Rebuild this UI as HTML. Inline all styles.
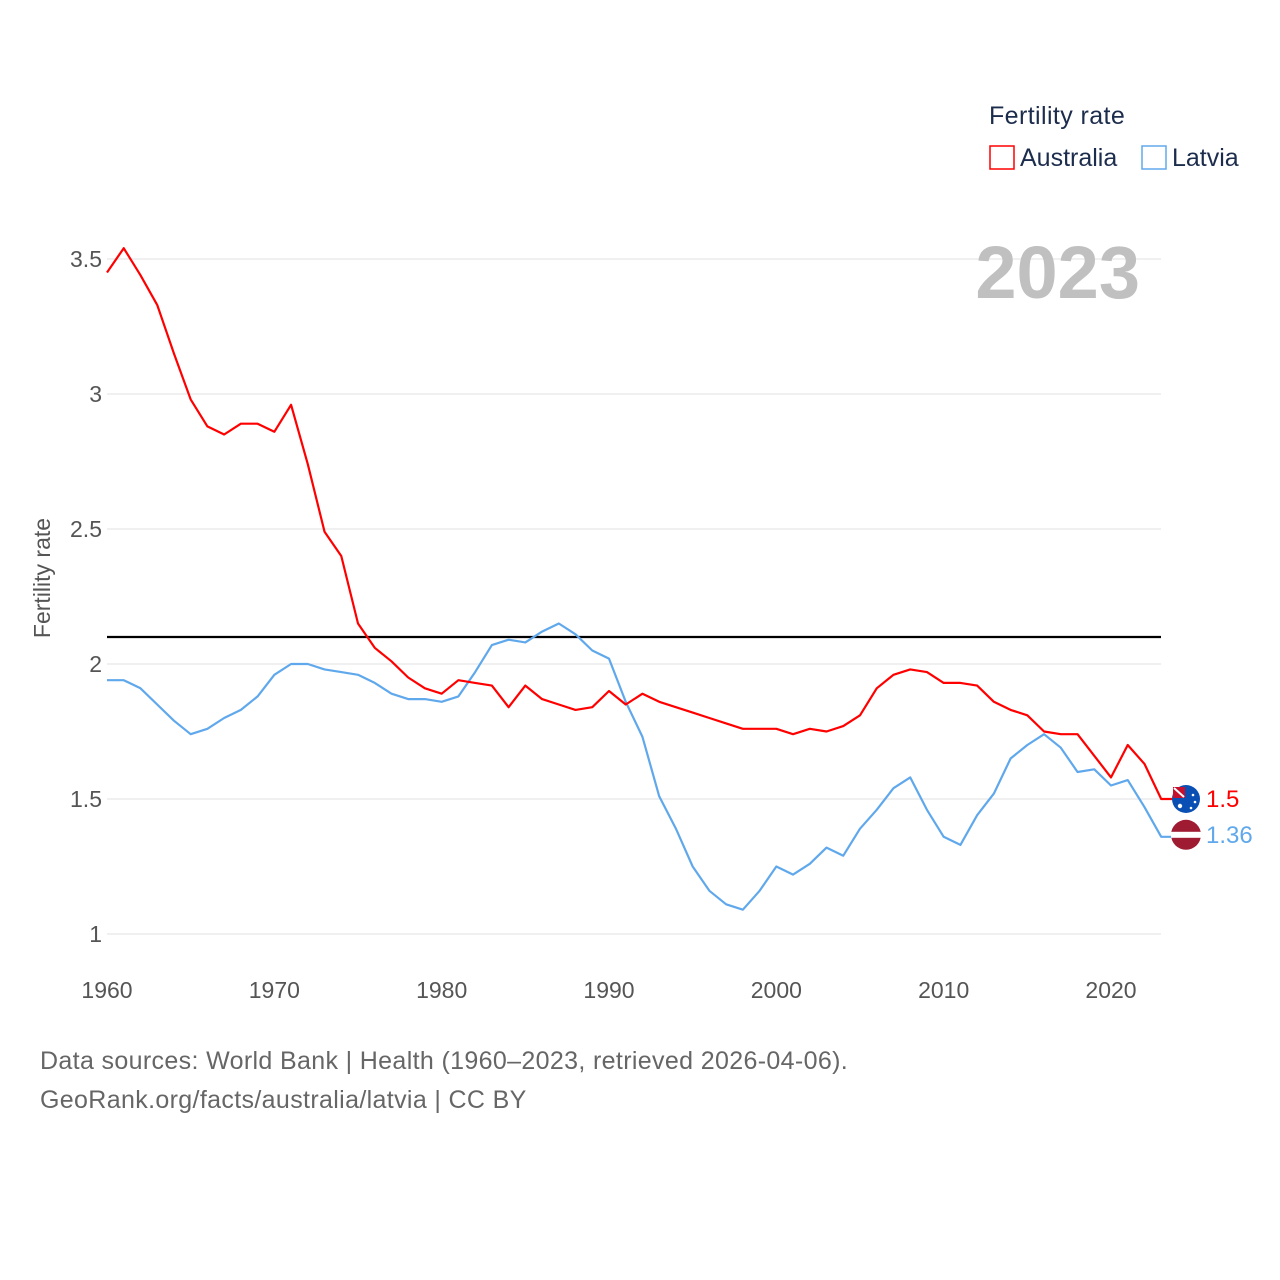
<!DOCTYPE html>
<html><head><meta charset="utf-8"><style>
html,body{margin:0;padding:0;background:#fff;width:1280px;height:1280px;overflow:hidden;font-family:"Liberation Sans",sans-serif}
svg text{font-family:"Liberation Sans",sans-serif}
</style></head><body>
<svg id="chart" width="1280" height="1280" viewBox="0 0 1280 1280">
<g id="grid"></g>
<g id="yticks"></g>
<g id="xticks"></g>
<text x="1140" y="298" text-anchor="end" font-size="74" font-weight="bold" fill="#c0c0c0">2023</text>
<text transform="translate(50,578) rotate(-90)" text-anchor="middle" font-size="23" fill="#555">Fertility rate</text>
<line id="refline" x1="107" x2="1161" stroke="#000" stroke-width="2.2"/>
<g id="series"></g>
<g>
<text x="989" y="124" font-size="25" letter-spacing="0.4" fill="#1c2c4c">Fertility rate</text>
<g><rect x="990" y="146" width="24" height="23" fill="none" stroke="#ff0000" stroke-width="1.5"/><text x="1020" y="166" font-size="25" fill="#1c2c4c">Australia</text></g>
<g><rect x="1142" y="146" width="24" height="23" fill="none" stroke="#60a8ec" stroke-width="1.5"/><text x="1172" y="166" font-size="25" fill="#1c2c4c">Latvia</text></g>
</g>
<text x="40" y="1069" font-size="25" letter-spacing="0.35" fill="#666">Data sources: World Bank | Health (1960–2023, retrieved 2026-04-06).</text>
<text x="40" y="1108" font-size="25" letter-spacing="0.35" fill="#666">GeoRank.org/facts/australia/latvia | CC BY</text>
</svg>
<script>
const years = [];
for (let y = 1960; y <= 2023; y++) years.push(y);
const australia = [3.45,3.54,3.44,3.33,3.15,2.98,2.88,2.85,2.89,2.89,2.86,2.96,2.74,2.49,2.40,2.15,2.06,2.01,1.95,1.91,1.89,1.94,1.93,1.92,1.84,1.92,1.87,1.85,1.83,1.84,1.90,1.85,1.89,1.86,1.84,1.82,1.80,1.78,1.76,1.76,1.76,1.74,1.76,1.75,1.77,1.81,1.91,1.96,1.98,1.97,1.93,1.93,1.92,1.86,1.83,1.81,1.75,1.74,1.74,1.66,1.58,1.70,1.63,1.50];
const latvia = [1.94,1.94,1.91,1.85,1.79,1.74,1.76,1.80,1.83,1.88,1.96,2.00,2.00,1.98,1.97,1.96,1.93,1.89,1.87,1.87,1.86,1.88,1.97,2.07,2.09,2.08,2.12,2.15,2.11,2.05,2.02,1.86,1.73,1.51,1.39,1.25,1.16,1.11,1.09,1.16,1.25,1.22,1.26,1.32,1.29,1.39,1.46,1.54,1.58,1.46,1.36,1.33,1.44,1.52,1.65,1.70,1.74,1.69,1.60,1.61,1.55,1.57,1.47,1.36];
const yTicks = [1, 1.5, 2, 2.5, 3, 3.5];
const yTickLabels = ["1","1.5","2","2.5","3","3.5"];
const xTicks = [1960,1970,1980,1990,2000,2010,2020];
const replacementRate = 2.1;

const X = y => 107 + (y - 1960) * (1111 - 107) / 60;
const Y = v => 934 - (v - 1) * 270;
const NS = "http://www.w3.org/2000/svg";
function mk(tag, attrs, parent) {
  const e = document.createElementNS(NS, tag);
  for (const k in attrs) e.setAttribute(k, attrs[k]);
  parent.appendChild(e);
  return e;
}
const grid = document.getElementById('grid');
const yt = document.getElementById('yticks');
yTicks.forEach((v, i) => {
  const l = mk('line', {x1: 107, x2: 1161, y1: Y(v), y2: Y(v), stroke: '#e6e6e6', 'stroke-width': 1.2}, grid);
  
  
  const t = mk('text', {x: 102, y: Y(v) + 8, 'text-anchor': 'end', 'font-size': 23, fill: '#555'}, yt);
  t.textContent = yTickLabels[i];
  
  
});
const xt = document.getElementById('xticks');
xTicks.forEach(y => {
  const t = mk('text', {x: X(y), y: 998, 'text-anchor': 'middle', 'font-size': 23, fill: '#555'}, xt);
  t.textContent = String(y);
  
  
});
const rl = document.getElementById('refline');
rl.setAttribute('y1', Y(replacementRate));
rl.setAttribute('y2', Y(replacementRate));

const sg = document.getElementById('series');
function drawSeries(vals, color, name, flag, dy) {
  const pts = vals.map((v, i) => X(years[i]) + ',' + Y(v));
  const last = vals[vals.length - 1];
  pts.push((X(years[years.length - 1]) + 22) + ',' + Y(last));
  const p = mk('polyline', {points: pts.join(' '), fill: 'none', stroke: color, 'stroke-width': 2.2, 'stroke-linejoin': 'round'}, sg);
  
  
  const cx = 1186, cy = Y(last) + dy;
  const g = mk('g', {}, sg);
  
  
  if (flag === 'au') {
    mk('circle', {cx: cx, cy: cy, r: 14, fill: '#0a50b4'}, g);
    mk('rect', {x: cx - 13, y: cy - 12, width: 12, height: 11, fill: '#c8102e'}, g);
    mk('line', {x1: cx - 12, y1: cy - 11, x2: cx - 2, y2: cy - 2, stroke: '#fff', 'stroke-width': 2}, g);
    mk('circle', {cx: cx - 6, cy: cy + 7, r: 2.2, fill: '#fff'}, g);
    mk('circle', {cx: cx + 7, cy: cy - 4, r: 1.3, fill: '#fff'}, g);
    mk('circle', {cx: cx + 9, cy: cy + 3, r: 1.3, fill: '#fff'}, g);
    mk('circle', {cx: cx + 5, cy: cy + 9, r: 1.3, fill: '#fff'}, g);
  } else {
    mk('circle', {cx: cx, cy: cy, r: 15, fill: '#9e1b32'}, g);
    mk('rect', {x: cx - 15, y: cy - 3, width: 30, height: 6, fill: '#fff'}, g);
  }
  const t = mk('text', {x: 1206, y: Y(last) + 8 + dy, 'font-size': 24, fill: color}, sg);
  t.textContent = String(last);
  
  
}
drawSeries(latvia, '#60a8ec', 'latvia', 'lv', -2);
drawSeries(australia, '#ff0000', 'australia', 'au', 0);
</script>
</body></html>
